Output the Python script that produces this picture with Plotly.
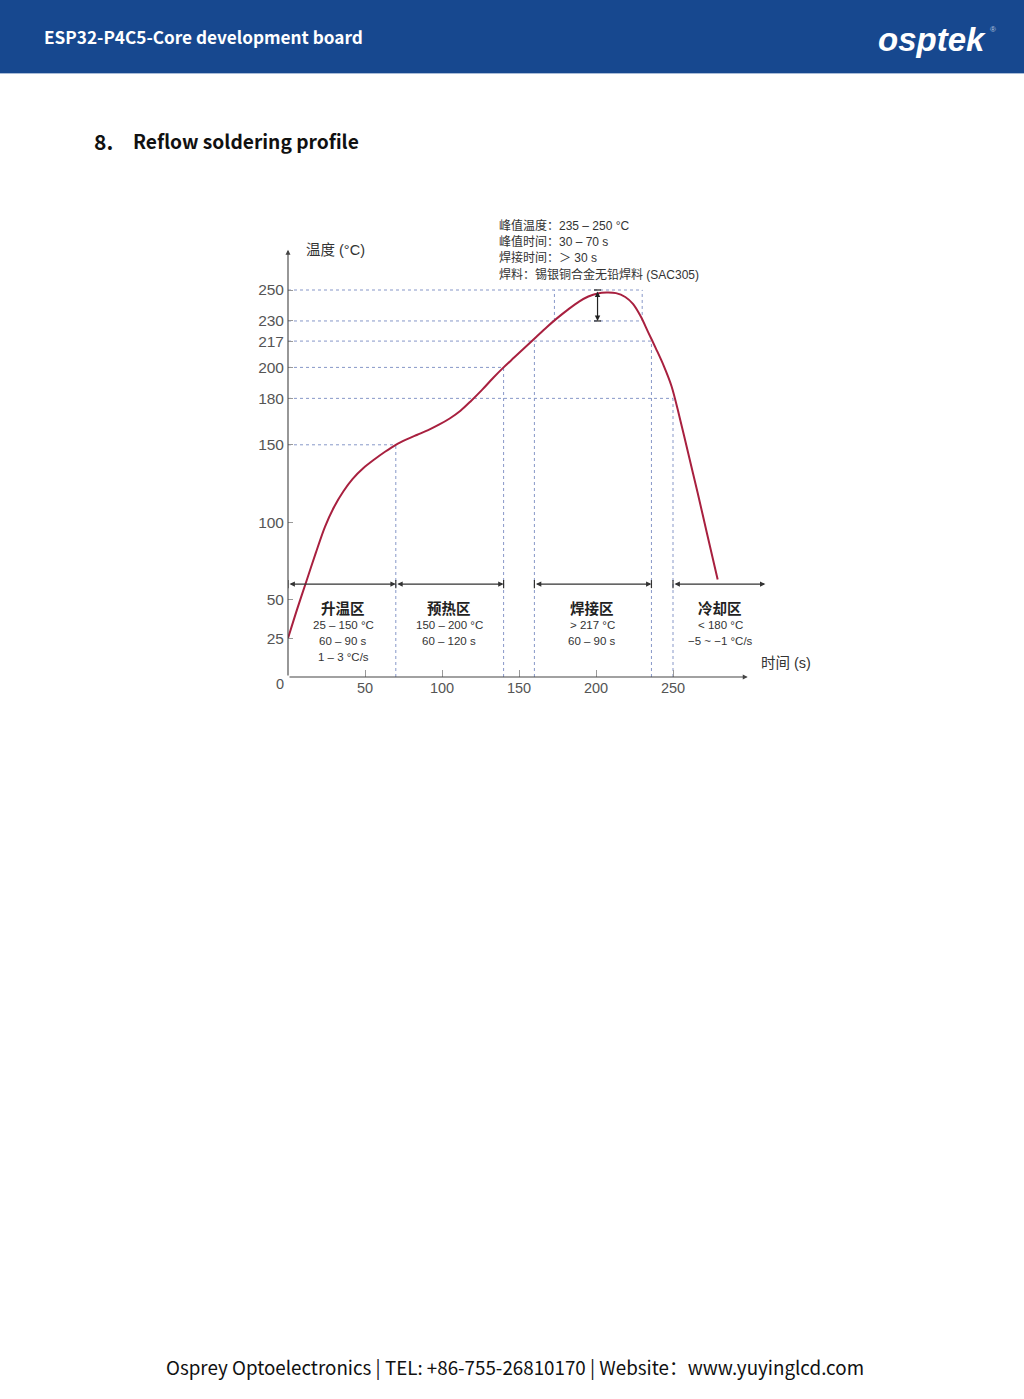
import plotly.graph_objects as go

# ---------------- data ----------------
time_s = [0, 6, 12, 18, 24, 30, 36, 42, 49, 56, 63, 70, 77, 84, 91, 98, 105, 112, 119, 126, 133, 140,
          147, 154, 161, 168, 175, 182, 189, 195, 201, 207, 213, 219, 224, 229, 234, 239, 244, 249,
          254, 260, 266, 272, 279]
temp_c = [25, 44, 62, 80, 97, 110, 120, 128, 135, 140.5, 145.5, 150, 153.5, 156.5, 159.5, 163, 167, 172,
          178.5, 185.5, 193, 200, 206.5, 213, 219.5, 226, 232, 237.5, 242.5, 245.8, 247.8, 248.4, 248,
          245.5, 241, 233, 222.5, 212, 201, 188, 169, 144, 119, 93, 63]

y_ticks = [25, 50, 100, 150, 180, 200, 217, 230, 250]
x_ticks = [50, 100, 150, 200, 250]

# reference lines: (temperature, t_start, t_end)
h_refs = [(250, 0, 230), (230, 0, 230), (217, 0, 236), (200, 0, 140), (180, 0, 250), (150, 0, 70)]
# vertical reference lines: (time, T_low, T_high)
v_refs = [(70, 0, 150), (140, 0, 200), (160, 0, 217), (173, 230, 250), (230, 230, 250), (236, 0, 217), (250, 0, 180)]

zone_ranges = [(0, 70), (70, 140), (160, 236), (250, 310)]
zone_names = ["升温区", "预热区", "焊接区", "冷却区"]
zone_details = [
    ["25 – 150 °C", "60 – 90 s", "1 – 3 °C/s"],
    ["150 – 200 °C", "60 – 120 s"],
    ["&gt; 217 °C", "60 – 90 s"],
    ["&lt; 180 °C", "−5 ~ −1 °C/s"],
]
zone_arrow_temp = 60

peak_time = 201
peak_range = (230, 250)

spec_lines = ["峰值温度：235 – 250 °C", "峰值时间：30 – 70 s", "焊接时间：＞ 30 s", "焊料：锡银铜合金无铅焊料 (SAC305)"]

header_title = "ESP32-P4C5-Core development board"
brand = "osptek"
section_no = "8."
section_title = "Reflow soldering profile"
footer = "Osprey Optoelectronics | TEL: +86-755-26810170 | Website：www.yuyinglcd.com"

# ---------------- layout helpers ----------------
W, H = 1024, 1399
def px(x):
    return x / W
def py(y):
    return 1 - y / H

X_PX0, X_SCALE = 288, 1.54     # pixel of t=0, px per second
Y_PX0, Y_SCALE = 677, 1.548    # pixel of T=0, px per degree
X_MAX, Y_MAX = 340, 300

CHART_FONT = "Liberation Sans, Noto Sans CJK SC, sans-serif"
PAGE_FONT = "Noto Sans CJK SC, Noto Sans, sans-serif"
CURVE = "#a8203f"
DOT = "#8797c8"
AX = "#444444"

fig = go.Figure()

# reference dotted lines
for T, t0, t1 in h_refs:
    fig.add_trace(go.Scatter(x=[t0, t1], y=[T, T], mode="lines",
                             line=dict(color=DOT, width=1, dash="dot"), hoverinfo="skip", showlegend=False))
for t, T0, T1 in v_refs:
    fig.add_trace(go.Scatter(x=[t, t], y=[T0, T1], mode="lines",
                             line=dict(color=DOT, width=1, dash="dot"), hoverinfo="skip", showlegend=False))

# profile curve
fig.add_trace(go.Scatter(x=time_s, y=temp_c, mode="lines",
                         line=dict(color=CURVE, width=2, shape="spline", smoothing=0.9),
                         showlegend=False))

annotations = []
shapes = []

# axes with arrows
annotations.append(dict(x=298.5, y=0, ax=0, ay=0, xref="x", yref="y", axref="x", ayref="y",
                        showarrow=True, arrowhead=2, arrowsize=0.9, arrowwidth=1.1, arrowcolor=AX, text=""))
annotations.append(dict(x=0, y=276, ax=0, ay=0, xref="x", yref="y", axref="x", ayref="y",
                        showarrow=True, arrowhead=2, arrowsize=0.9, arrowwidth=1.1, arrowcolor=AX, text=""))

# zone arrows
for (t0, t1) in zone_ranges:
    annotations.append(dict(x=t1, y=zone_arrow_temp, ax=t0, ay=zone_arrow_temp, xref="x", yref="y",
                            axref="x", ayref="y", showarrow=True, arrowhead=2, startarrowhead=2,
                            arrowside="end+start", arrowsize=0.9, startarrowsize=0.9,
                            arrowwidth=1.2, arrowcolor="#333333", text=""))
caps = sorted(set([z[0] for z in zone_ranges] + [z[1] for z in zone_ranges[:-1]]))
for t in caps:
    shapes.append(dict(type="line", xref="x", yref="y", x0=t, x1=t,
                       y0=zone_arrow_temp - 2.6, y1=zone_arrow_temp + 2.6,
                       line=dict(color="#333333", width=1.2)))

# peak arrow
annotations.append(dict(x=peak_time, y=peak_range[0], ax=peak_time, ay=peak_range[1], xref="x", yref="y",
                        axref="x", ayref="y", showarrow=True, arrowhead=2, startarrowhead=2,
                        arrowside="end+start", arrowsize=0.9, startarrowsize=0.9,
                        arrowwidth=1.2, arrowcolor="#222222", text=""))
for T in peak_range:
    shapes.append(dict(type="line", xref="x", yref="y", x0=peak_time - 2.3, x1=peak_time + 2.3,
                       y0=T, y1=T, line=dict(color="#222222", width=1.2)))

# zone labels
def dx(x):
    return (x - X_PX0) / X_SCALE
def dy(y):
    return (Y_PX0 - y) / Y_SCALE

zone_centers_px = [343, 449, 592, 720]
for cx, name, details in zip(zone_centers_px, zone_names, zone_details):
    annotations.append(dict(x=dx(cx), y=dy(607), xref="x", yref="y", text="<b>" + name + "</b>",
                            showarrow=False, font=dict(family=PAGE_FONT, size=14.5, color="#222222")))
    for i, line in enumerate(details):
        annotations.append(dict(x=dx(cx), y=dy(625 + 16 * i), xref="x", yref="y", text=line,
                                showarrow=False, font=dict(family=CHART_FONT, size=11.5, color="#333333")))

# spec lines
for i, line in enumerate(spec_lines):
    annotations.append(dict(x=dx(497), y=dy(225 + 16.4 * i), xref="x", yref="y", text=line,
                            xanchor="left", showarrow=False,
                            font=dict(family=CHART_FONT, size=12, color="#333333")))

# axis titles and origin label
annotations.append(dict(x=dx(304), y=dy(250), xref="x", yref="y", text="温度 (°C)", xanchor="left",
                        showarrow=False, font=dict(family=CHART_FONT, size=14.5, color="#333333")))
annotations.append(dict(x=dx(759), y=dy(663), xref="x", yref="y", text="时间 (s)", xanchor="left",
                        showarrow=False, font=dict(family=CHART_FONT, size=14.5, color="#333333")))
annotations.append(dict(x=px(280), y=py(684), xref="paper", yref="paper", text="0",
                        xanchor="center", yanchor="middle",
                        showarrow=False, font=dict(family=CHART_FONT, size=14.5, color="#555555")))

# page decoration: header bar
shapes.append(dict(type="rect", xref="paper", yref="paper", x0=0, x1=1, y0=py(73), y1=1,
                   fillcolor="#17488f", line=dict(width=0), layer="below"))
shapes.append(dict(type="line", xref="paper", yref="paper", x0=0, x1=1, y0=py(73.5), y1=py(73.5),
                   line=dict(color="#a9bcd8", width=1), layer="below"))

annotations.append(dict(x=px(41.5), y=py(36), xref="paper", yref="paper", text="<b>" + header_title + "</b>",
                        xanchor="left", yanchor="middle", showarrow=False,
                        font=dict(family=PAGE_FONT, size=17.2, color="white")))
annotations.append(dict(x=px(876), y=py(39), xref="paper", yref="paper", text="<b><i>" + brand + "</i></b>",
                        xanchor="left", yanchor="middle", showarrow=False,
                        font=dict(family="Liberation Sans, Arial, sans-serif", size=33, color="white")))
annotations.append(dict(x=px(993), y=py(29), xref="paper", yref="paper", text="®",
                        xanchor="center", yanchor="middle", showarrow=False,
                        font=dict(family="Liberation Sans, sans-serif", size=8, color="#b8c6de")))

# section title
annotations.append(dict(x=px(92), y=py(141), xref="paper", yref="paper", text="<b>" + section_no + "</b>",
                        xanchor="left", yanchor="middle", showarrow=False,
                        font=dict(family=PAGE_FONT, size=21, color="#111111")))
annotations.append(dict(x=px(131), y=py(141), xref="paper", yref="paper", text="<b>" + section_title + "</b>",
                        xanchor="left", yanchor="middle", showarrow=False,
                        font=dict(family=PAGE_FONT, size=19.2, color="#111111")))

# footer
annotations.append(dict(x=px(515), y=py(1366), xref="paper", yref="paper", text=footer,
                        xanchor="center", yanchor="middle", showarrow=False,
                        font=dict(family=PAGE_FONT, size=18.8, color="#111111")))

fig.update_layout(
    width=W, height=H, margin=dict(l=0, r=0, t=0, b=0),
    paper_bgcolor="white", plot_bgcolor="white",
    showlegend=False, hovermode=False,
    annotations=annotations, shapes=shapes,
    xaxis=dict(domain=[px(X_PX0), px(X_PX0 + X_MAX * X_SCALE)], range=[0, X_MAX],
               tickvals=x_ticks, ticktext=[str(v) for v in x_ticks],
               ticks="inside", ticklen=7, tickcolor="#999999", tickwidth=1,
               showgrid=False, zeroline=False, showline=False, fixedrange=True,
               tickfont=dict(family=CHART_FONT, size=14.5, color="#555555")),
    yaxis=dict(domain=[py(Y_PX0), py(Y_PX0 - Y_MAX * Y_SCALE)], range=[0, Y_MAX],
               tickvals=y_ticks, ticktext=[str(v) for v in y_ticks],
               ticks="inside", ticklen=5, tickcolor="#999999", tickwidth=1,
               ticklabelstandoff=3, fixedrange=True,
               showgrid=False, zeroline=False, showline=False,
               tickfont=dict(family=CHART_FONT, size=15.5, color="#555555")),
)

fig.write_html("out.html", config={"displayModeBar": False},
               post_script="document.body.style.margin='0';document.body.style.overflow='hidden';")
